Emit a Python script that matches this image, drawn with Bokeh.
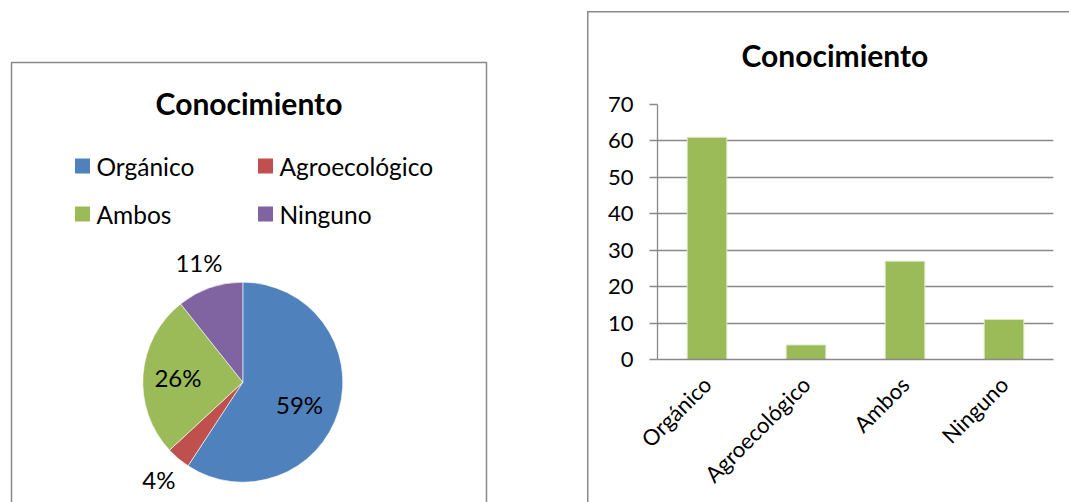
import math
from bokeh.plotting import figure
from bokeh.layouts import row
from bokeh.models import ColumnDataSource, Range1d, FactorRange, FixedTicker
from bokeh.core.properties import value
from bokeh.embed import file_html
from bokeh.resources import INLINE

# ---------------- data ----------------
categories = ["Orgánico", "Agroecológico", "Ambos", "Ninguno"]
counts = [61, 4, 27, 11]
colors = ["#4F81BD", "#C0504D", "#9BBB59", "#8064A2"]
bar_color = "#9BBB59"
y_ticks = [0, 10, 20, 30, 40, 50, 60, 70]
chart_title = "Conocimiento"

FONT = "Lato"
GRAY = "#898989"
PAGE_W = 1069
PAGE_H = 502

def Y(img_y):
    # picture y (down) -> left-canvas data y (up)
    return PAGE_H - img_y

# ---------------- left: pie chart ----------------
LW = 580
left = figure(width=LW, height=PAGE_H, x_range=Range1d(0, LW), y_range=Range1d(0, PAGE_H),
              output_backend="svg", toolbar_location=None, min_border=0, frame_align=False)
left.axis.visible = False
left.grid.visible = False
left.outline_line_color = None

left.quad(left=[11], right=[486], top=[Y(62)], bottom=[-40], fill_color=None,
          line_color=GRAY, line_width=1.5)

total = sum(counts)
shares = [c / total for c in counts]
cum = [0.0]
for s in shares:
    cum.append(cum[-1] + s)
start = [math.pi / 2 - 2 * math.pi * cum[i] for i in range(len(shares))]
end = [math.pi / 2 - 2 * math.pi * cum[i + 1] for i in range(len(shares))]

cx, cy, R = 242.3, Y(381.7), 100
pie_src = ColumnDataSource(dict(cat=categories, start=start, end=end, color=colors))
left.wedge(x=cx, y=cy, radius=R, start_angle="start", end_angle="end", direction="clock",
           fill_color="color", line_color="white", line_width=0.6, source=pie_src)

lx, ly, lt = [], [], []
for i, s in enumerate(shares):
    mid = (start[i] + end[i]) / 2
    if s < 0.15:
        rr = R * 1.27
    else:
        rr = R * 0.63
        mid -= 0.08 if s > 0.5 else 0.0
    lx.append(cx + rr * math.cos(mid) - 2)
    ly.append(cy + rr * math.sin(mid))
    lt.append(f"{round(s * 100)}%")
left.text(x=lx, y=ly, text=lt, text_align="center", text_baseline="middle",
          text_font=value(FONT), text_font_size="24px", text_color="black")

leg_x0, leg_dx, leg_y0, leg_dy = 82, 183, 165.5, 48
sq_x = [leg_x0 + (i % 2) * leg_dx for i in range(len(categories))]
sq_y = [Y(leg_y0 + (i // 2) * leg_dy) for i in range(len(categories))]
left.rect(x=sq_x, y=sq_y, width=15, height=15, fill_color=colors, line_color=None)
left.text(x=[v + 14 for v in sq_x], y=sq_y, text=categories, text_align="left", text_baseline="middle",
          text_font=value(FONT), text_font_size="24.5px", text_color="black")

left.text(x=[248.5], y=[Y(102.5)], text=[chart_title], text_align="center", text_baseline="middle",
          text_font=value(FONT), text_font_size="30px", text_font_style="bold", text_color="black")

# ---------------- right: bar chart ----------------
RW = PAGE_W - LW
box_css = {
    "background-image": "linear-gradient(#898989,#898989), linear-gradient(#898989,#898989)",
    "background-size": "100% 1.5px, 1.5px 100%",
    "background-position": "7px 11px, 7px 11px",
    "background-repeat": "no-repeat",
}
right = figure(width=RW, height=PAGE_H, x_range=FactorRange(*categories), y_range=Range1d(0, 70),
               output_backend="svg", toolbar_location=None, frame_align=False,
               min_border_left=77, min_border_right=16, min_border_top=104, min_border_bottom=143,
               title=chart_title, styles=box_css)
right.border_fill_color = None
right.background_fill_color = "white"
right.outline_line_color = None
right.title.align = "left"
right.title.offset = 84
right.title.standoff = 64
right.title.text_font = FONT
right.title.text_font_size = "30px"
right.title.text_font_style = "bold"
right.title.text_color = "black"

right.vbar(x=categories, top=counts, width=0.4, fill_color=bar_color, line_color="#dce8c6", line_width=1)

right.xgrid.visible = False
right.ygrid.grid_line_color = GRAY
right.ygrid.grid_line_width = 1.3
right.ygrid.ticker = FixedTicker(ticks=y_ticks)

ya = right.yaxis[0]
ya.ticker = FixedTicker(ticks=y_ticks)
ya.axis_line_color = GRAY
ya.axis_line_width = 1.3
ya.major_tick_line_color = GRAY
ya.major_tick_line_width = 1.3
ya.major_tick_out = 8
ya.major_tick_in = 0
ya.minor_tick_line_color = None
ya.major_label_standoff = 16
ya.major_label_text_font = FONT
ya.major_label_text_font_size = "22px"
ya.major_label_text_color = "black"

xa = right.xaxis[0]
xa.axis_line_color = GRAY
xa.axis_line_width = 1.5
xa.major_tick_line_color = None
xa.major_tick_out = 0
xa.major_tick_in = 0
xa.minor_tick_line_color = None
xa.major_label_orientation = math.pi / 4
xa.major_label_standoff = 21
xa.major_label_text_font = FONT
xa.major_label_text_font_size = "22px"
xa.major_label_text_color = "black"

layout = row(left, right, spacing=0)
open("out.html", "w").write(file_html(layout, INLINE))
